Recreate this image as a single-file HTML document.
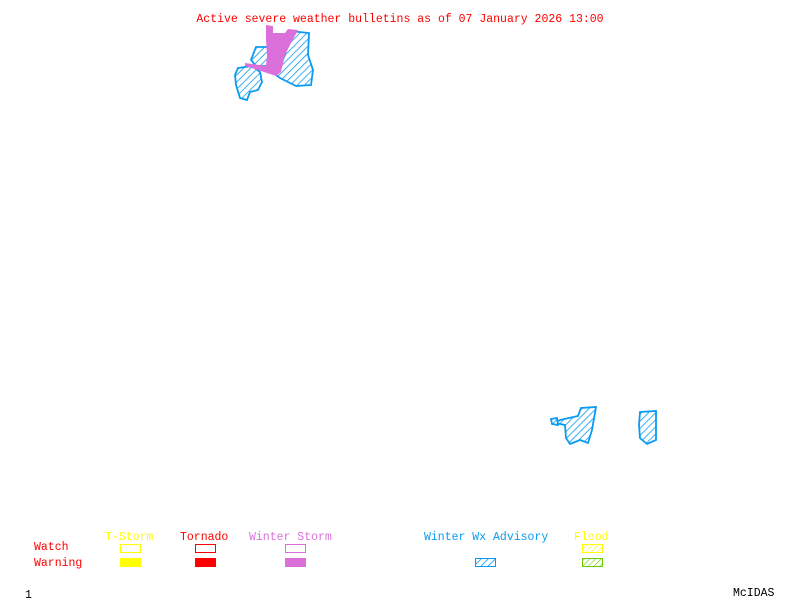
<!DOCTYPE html>
<html><head><style>
html,body{margin:0;padding:0;background:#fff;}
svg{display:block;}
text{font-family:"Liberation Mono",monospace;font-size:11.5px;}
</style></head><body>
<svg width="800" height="600" viewBox="0 0 800 600" xmlns="http://www.w3.org/2000/svg">
<defs>
<pattern id="hb" width="5" height="5" patternUnits="userSpaceOnUse" patternTransform="rotate(45)">
<rect width="5" height="5" fill="#fff"/><line x1="0" y1="0" x2="0" y2="5" stroke="#0a9bf0" stroke-width="1.6"/></pattern>
<pattern id="hy" width="4" height="4" patternUnits="userSpaceOnUse" patternTransform="rotate(45)">
<rect width="4" height="4" fill="#fff"/><line x1="0" y1="0" x2="0" y2="4" stroke="#ffff00" stroke-width="1.2"/></pattern>
<pattern id="hg" width="4" height="4" patternUnits="userSpaceOnUse" patternTransform="rotate(45)">
<rect width="4" height="4" fill="#fff"/><line x1="0" y1="0" x2="0" y2="4" stroke="#66cc00" stroke-width="1.2"/></pattern>
</defs>
<text x="400" y="22" fill="#ff0000" text-anchor="middle">Active severe weather bulletins as of 07 January 2026 13:00</text>

<g fill="url(#hb)" stroke="#0a9bf0" stroke-width="1.8">
<polygon points="290,31 309,33 308,55 313,70 311,85 296,86 280,78 276,75 285,55"/>
<polygon points="256,47 273,47 271,66 256,66 251,60"/>
<polygon points="238,68 252,66 260,72 262,82 258,90 250,92 247,100 240,98 236,85 235,75"/>
<polygon points="560,420 578,416 581,408 596,407 592,430 588,443 580,440 570,444 566,438 565,425 555,423"/>
<polygon points="551,419 557,418 558,425 552,424"/>
<polygon points="640,412 656,411 656,440 647,444 640,438 639,425"/>
</g>
<polygon fill="#db70db" points="266,25 273,26 273,33 285,33 288,29 298,30 290,45 285,55 281,72 276,76 270,74 258,70 245,66 245,63 266,66 267,55 266,40"/>

<text x="34" y="550" fill="#ff0000">Watch</text>
<text x="34" y="566" fill="#ff0000">Warning</text>
<text x="105" y="540" fill="#ffff00">T-Storm</text>
<text x="180" y="540" fill="#ff0000">Tornado</text>
<text x="249" y="540" fill="#db70db">Winter Storm</text>
<text x="424" y="540" fill="#0a9bf0">Winter Wx Advisory</text>
<text x="574" y="540" fill="#ffff00">Flood</text>

<rect x="120.5" y="544.5" width="20" height="8" fill="none" stroke="#ffff00"/>
<rect x="120" y="558" width="21" height="9" fill="#ffff00"/>
<rect x="195.5" y="544.5" width="20" height="8" fill="none" stroke="#ff0000"/>
<rect x="195" y="558" width="21" height="9" fill="#ff0000"/>
<rect x="285.5" y="544.5" width="20" height="8" fill="none" stroke="#db70db"/>
<rect x="285" y="558" width="21" height="9" fill="#db70db"/>
<rect x="475.5" y="558.5" width="20" height="8" fill="url(#hb)" stroke="#0a9bf0"/>
<rect x="582.5" y="544.5" width="20" height="8" fill="url(#hy)" stroke="#ffff00"/>
<rect x="582.5" y="558.5" width="20" height="8" fill="url(#hg)" stroke="#66cc00"/>

<text x="25" y="598" fill="#000">1</text>
<text x="733" y="596" fill="#000">McIDAS</text>
</svg>
</body></html>
